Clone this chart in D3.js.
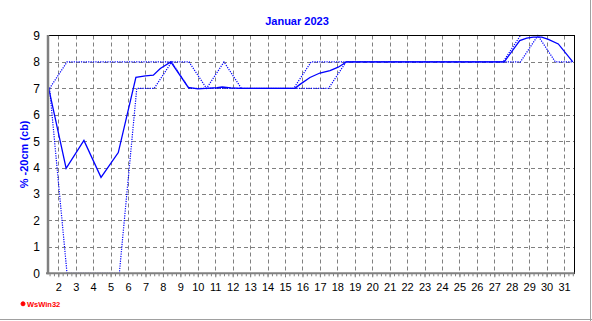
<!DOCTYPE html>
<html>
<head>
<meta charset="utf-8">
<script src="https://cdn.jsdelivr.net/npm/d3@7"></script>
<style>
  body { margin: 0; background: #fff; }
  svg { display: block; font-family: Arial, "Liberation Sans", sans-serif; }
</style>
</head>
<body>
<svg width="592" height="321"></svg>
<script>
// daily values, Januar 2023 (soil moisture -20cm, cb)
const days = d3.range(1, 32);
const dayMax = [7, 8, 8, 8, 8, 8, 8, 8, 8, 7, 8, 7, 7, 7, 7, 8, 8, 8, 8, 8, 8, 8, 8, 8, 8, 8, 8, 9, 9, 9, 9];
const dayMin = [7, 0, 0, 0, 0, 7, 7, 8, 7, 7, 7, 7, 7, 7, 7, 7, 7, 8, 8, 8, 8, 8, 8, 8, 8, 8, 8, 8, 9, 8, 8];

// mean curve (time in days, value)
const avgTime = [1.45, 2.45, 3.47, 4.45, 5.44, 6.45, 7.0, 7.45, 7.85, 8.45, 9.45, 10.0, 10.45, 11.1, 11.4, 11.9, 12.45,
  15.57, 15.84, 16.43, 17.0, 17.58, 18.05, 18.34, 18.5, 27.57, 28.46, 28.86, 29.24, 29.72, 30.1, 30.67, 31.5];
const avgValue = [7.0, 3.97, 5.03, 3.63, 4.57, 7.42, 7.47, 7.5, 7.75, 8.0, 7.04, 6.98, 7.0, 7.03, 7.05, 7.02, 7.0,
  7.0, 7.14, 7.41, 7.58, 7.67, 7.8, 7.92, 8.0, 8.0, 8.81, 8.9, 8.94, 8.94, 8.85, 8.68, 8.0];

const xTicks = d3.range(2, 32);
const yTicks = d3.range(0, 10);

const svg = d3.select('svg');
const blue = '#0000ff';
const grey = '#808080';

//scales: plot box from the left axis to the black frame on the right
const x = d3.scaleLinear().domain([1.41, 31.57]).range([48, 574]);
const y = d3.scaleLinear().domain([0, 9]).range([273.3, 35.5]);

// outer frame lines (right and bottom)
svg.append('line').attr('x1', 590.5).attr('x2', 590.5).attr('y1', 0).attr('y2', 321)
  .attr('stroke', '#a0a0a0');
svg.append('line').attr('x1', 0).attr('x2', 592).attr('y1', 319.5).attr('y2', 319.5)
  .attr('stroke', '#a0a0a0');

// grid
const grid = svg.append('g')
  .attr('stroke', grey)
  .attr('stroke-dasharray', '4,3');

grid.selectAll('.h')
  .data(yTicks.filter(d => d > 0 && d < 9))
  .enter()
  .append('line')
  .attr('x1', x.range()[0])
  .attr('x2', x.range()[1])
  .attr('y1', d => Math.round(y(d)) + 0.5)
  .attr('y2', d => Math.round(y(d)) + 0.5);

grid.selectAll('.v')
  .data(xTicks)
  .enter()
  .append('line')
  .attr('x1', d => Math.round(x(d)) + 0.5)
  .attr('x2', d => Math.round(x(d)) + 0.5)
  .attr('y1', y(9))
  .attr('y2', y(0));

// series
const pts = v => days.map((d, i) => [d + 0.5, v[i]]);
const line = d3.line().x(d => x(d[0])).y(d => y(d[1]));

svg.append('path')
  .attr('d', line(pts(dayMax)))
  .attr('fill', 'none')
  .attr('stroke', blue)
  .attr('stroke-width', 1.2)
  .attr('stroke-dasharray', '1.2,1.2');

svg.append('path')
  .attr('d', line(pts(dayMin)))
  .attr('fill', 'none')
  .attr('stroke', blue)
  .attr('stroke-width', 1.2)
  .attr('stroke-dasharray', '1.2,1.2');

svg.append('path')
  .attr('d', line(avgTime.map((t, i) => [t, avgValue[i]])))
  .attr('fill', 'none')
  .attr('stroke', blue)
  .attr('stroke-width', 1.3);

// frame: black top and right, grey thick left and bottom
svg.append('line').attr('x1', 48).attr('x2', 574.5).attr('y1', 35.5).attr('y2', 35.5)
  .attr('stroke', '#000');
svg.append('line').attr('x1', 574.5).attr('x2', 574.5).attr('y1', 35).attr('y2', 274)
  .attr('stroke', '#000');

// x axis
const minor = d3.range(6, 127).map(q => q / 4);
svg.append('g')
  .attr('transform', `translate(0,${y(0)})`)
  .call(d3.axisBottom(x).tickValues(minor).tickSize(3).tickFormat(''))
  .call(g => g.select('.domain').remove())
  .call(g => g.selectAll('line').attr('stroke', grey));

svg.append('g')
  .attr('transform', `translate(0,${y(0)})`)
  .call(d3.axisBottom(x).tickValues(xTicks).tickSize(4).tickPadding(6).tickFormat(d3.format('d')))
  .call(g => g.select('.domain').remove())
  .call(g => g.selectAll('line').attr('stroke', grey))
  .call(g => g.selectAll('text').attr('fill', '#000').attr('font-size', 11).attr('font-family', 'Arial, "Liberation Sans", sans-serif'));

svg.append('line').attr('x1', 46).attr('x2', 574.5).attr('y1', y(0)).attr('y2', y(0))
  .attr('stroke', grey).attr('stroke-width', 2);

// y axis
svg.append('g')
  .attr('transform', `translate(${x.range()[0]},0)`)
  .call(d3.axisLeft(y).tickValues(yTicks).tickSize(0).tickPadding(8).tickFormat(d3.format('d')))
  .call(g => g.select('.domain').remove())
  .call(g => g.selectAll('text').attr('fill', '#000').attr('font-size', 12).attr('font-family', 'Arial, "Liberation Sans", sans-serif'));

svg.append('line').attr('x1', 48).attr('x2', 48).attr('y1', 35).attr('y2', 274.3)
  .attr('stroke', grey).attr('stroke-width', 2.5);

// title and axis label
svg.append('text')
  .attr('x', 297)
  .attr('y', 25)
  .attr('text-anchor', 'middle')
  .attr('fill', blue)
  .attr('font-weight', 'bold')
  .attr('font-size', 11)
  .text('Januar 2023');

svg.append('text')
  .attr('transform', `translate(28,${(y(0) + y(9)) / 2}) rotate(-90)`)
  .attr('text-anchor', 'middle')
  .attr('fill', blue)
  .attr('font-weight', 'bold')
  .attr('font-size', 11)
  .text('% -20cm (cb)');

// program mark
svg.append('circle').attr('cx', 23).attr('cy', 303.8).attr('r', 2)
  .attr('fill', '#ff0000').attr('stroke', '#ff0000').attr('stroke-width', 1);
svg.append('text')
  .attr('x', 27)
  .attr('y', 306.5)
  .attr('fill', '#ff0000')
  .attr('font-weight', 'bold')
  .attr('font-size', 7.5)
  .text('WsWin32');
</script>
</body>
</html>
